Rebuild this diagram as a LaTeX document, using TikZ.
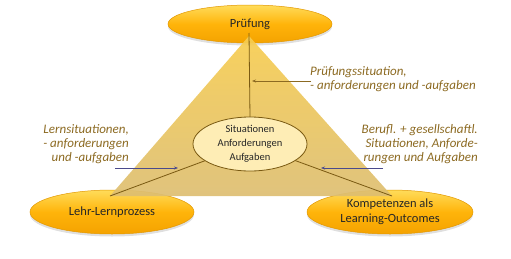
\documentclass[tikz,border=0pt]{standalone}
\usepackage{fontspec}
\setmainfont{Carlito}
\usetikzlibrary{shapes.geometric,arrows.meta,shadows}
\definecolor{ellTop}{HTML}{FFDC5A}
\definecolor{ellMid}{HTML}{FFB40A}
\definecolor{ellBot}{HTML}{F4A200}
\definecolor{ellBorder}{HTML}{E29800}
\definecolor{triTop}{HTML}{F7CD50}
\definecolor{triMid}{HTML}{F1D277}
\definecolor{triBot}{HTML}{DDBE72}
\definecolor{lineBrown}{HTML}{7A5A12}
\definecolor{labelBrown}{HTML}{8C6A22}
\definecolor{arrowBlue}{HTML}{4A4A8C}
\definecolor{sitFill}{HTML}{FEEDB5}
\begin{document}
\begin{tikzpicture}[x=1pt,y=1pt,
  orangeell/.style={ellipse, draw=ellBorder, line width=0.5pt,
    top color=ellTop, bottom color=ellBot, middle color=ellMid,
    drop shadow={shadow xshift=0pt, shadow yshift=-2.5pt, opacity=0.25},
    inner sep=0pt},
  elltext/.style={font=\fontsize{12.5}{15}\selectfont, text=black!85, align=center},
  sitell/.style={ellipse, draw=lineBrown, line width=0.8pt, fill=sitFill,
    font=\fontsize{10.5}{14}\selectfont, text=black!85, align=center, inner sep=0pt},
  conn/.style={draw=lineBrown, line width=0.8pt},
  lbl/.style={font=\fontsize{13}{13.8}\selectfont\itshape, text=labelBrown, inner sep=0pt},
  brownarrow/.style={draw=labelBrown, line width=0.7pt, -{Stealth[length=4pt,width=3pt]}},
  bluearrow/.style={draw=arrowBlue, line width=0.7pt, -{Stealth[length=4pt,width=3pt]}}
]
\useasboundingbox (0,0) rectangle (511,258);
% outer ellipses
\node[orangeell, minimum width=164pt, minimum height=38pt] (pruef) at (250,234) {};
\node[orangeell, minimum width=164pt, minimum height=44pt] (lehr) at (112,46) {};
\node[orangeell, minimum width=166pt, minimum height=44pt] (komp) at (390,46) {};
% triangle
\coordinate (apex) at (249,222);
\coordinate (cornerL) at (110,62);
\coordinate (cornerR) at (392,62);
\shade[top color=triTop, middle color=triMid, bottom color=triBot, fill opacity=0.92] (apex) -- (cornerR) -- (cornerL) -- cycle;
% texts of outer ellipses
\node[elltext] (pruefT) at (pruef.center) {Prüfung};
\node[elltext] (lehrT) at (lehr.center) {Lehr-Lernprozess};
\node[elltext] (kompT) at (komp.center) {Kompetenzen als\\Learning-Outcomes};
% center ellipse
\coordinate (topstart) at (249,225);
\coordinate (sitc) at (250,114);
\draw[conn] (topstart) -- (250,141);
\draw[conn] (sitc) -- (cornerL);
\draw[conn] (sitc) -- (cornerR);
\node[sitell, minimum width=114pt, minimum height=54pt] (sit) at (sitc) {Situationen\\Anforderungen\\Aufgaben};
% labels
\node[lbl, anchor=west, align=left] (l1) at (310,179) {Prüfungssituation,\\- anforderungen und -aufgaben};
\node[lbl, anchor=east, align=right] (l2) at (129,114) {Lernsituationen,\\- anforderungen\\und -aufgaben};
\node[lbl, anchor=east, align=right] (l3) at (478,114) {Berufl. + gesellschaftl.\\Situationen, Anforde-\\rungen und Aufgaben};
% arrows
\coordinate (a1s) at (311,177);
\coordinate (a1e) at (252,177);
\coordinate (a2s) at (115,90);
\coordinate (a2e) at (178,90);
\coordinate (a3s) at (383,90);
\coordinate (a3e) at (321,90);
\draw[brownarrow] (a1s) -- (a1e);
\draw[bluearrow] (a2s) -- (a2e);
\draw[bluearrow] (a3s) -- (a3e);
\end{tikzpicture}
\end{document}
